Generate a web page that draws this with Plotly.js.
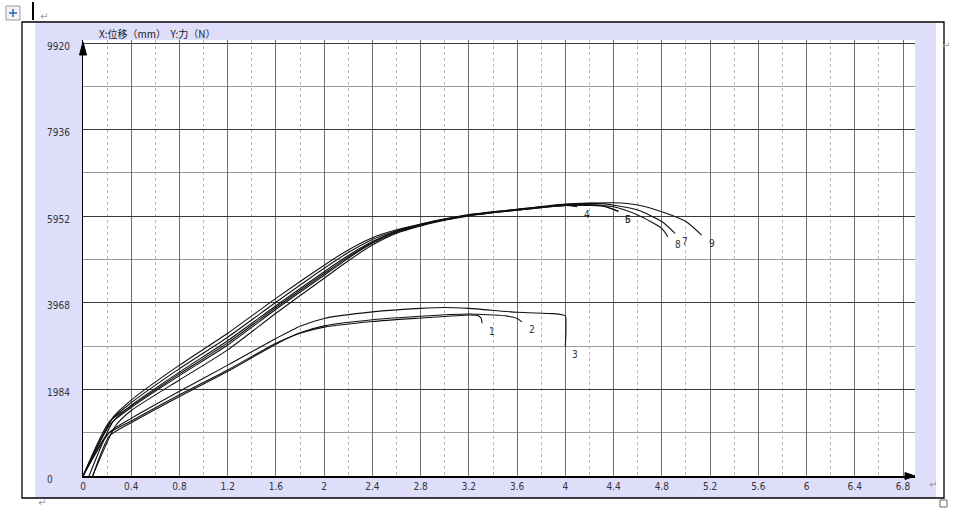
<!DOCTYPE html>
<html><head><meta charset="utf-8">
<script src="https://cdn.plot.ly/plotly-3.0.1.min.js"></script>
<style>html,body{margin:0;padding:0;background:#fff;}#chart{width:960px;height:518px;}</style>
</head><body><div id="chart"></div>
<script>
// ---- data (displacement mm / force N) ----
const xTickVals = [0,0.4,0.8,1.2,1.6,2,2.4,2.8,3.2,3.6,4,4.4,4.8,5.2,5.6,6,6.4,6.8];
const xTickText = ['0','0.4','0.8','1.2','1.6','2','2.4','2.8','3.2','3.6','4','4.4','4.8','5.2','5.6','6','6.4','6.8'];
const yTickVals = [0,1984,3968,5952,7936,9920];
const yTickText = ['0','1984','3968','5952','7936','9920'];
const curveNames = ['1','2','3','4','5','6','7','8','9'];

const x1 = [0,0.2,0.4,0.8,1.2,1.6,1.8,2.0,2.4,2.8,3.2,3.27,3.3,3.31];
const y1 = [0,950,1260,1860,2430,3040,3270,3410,3540,3620,3690,3680,3620,3500];
const x2 = [0.08,0.22,0.4,0.8,1.2,1.6,1.8,2.0,2.4,2.8,3.2,3.5,3.6,3.64];
const y2 = [0,920,1220,1820,2400,3020,3280,3440,3580,3660,3710,3670,3610,3530];
const x3 = [0,0.22,0.4,0.8,1.2,1.6,1.8,2.0,2.4,2.8,3.0,3.2,3.6,3.9,3.98,4.0,4.0];
const y3 = [0,1000,1320,1940,2540,3150,3430,3610,3760,3840,3860,3840,3750,3720,3690,3670,2970];
const x4 = [0,0.25,0.4,0.8,1.2,1.6,2.0,2.2,2.4,2.6,2.8,3.0,3.2,3.6,4.0,4.1];
const y4 = [0,1350,1740,2540,3270,4070,4830,5180,5460,5640,5770,5890,5990,6110,6200,6170];
const x5 = [0,0.24,0.4,0.8,1.2,1.6,2.0,2.2,2.4,2.6,2.8,3.0,3.2,3.6,4.0,4.3,4.44];
const y5 = [0,1300,1680,2460,3180,3980,4760,5120,5420,5620,5760,5880,5980,6100,6210,6200,6060];
const x6 = [0.05,0.25,0.4,0.8,1.2,1.6,2.0,2.2,2.4,2.6,2.8,3.0,3.2,3.6,4.0,4.3,4.44];
const y6 = [0,1250,1620,2380,3100,3900,4680,5050,5370,5600,5750,5870,5970,6090,6200,6190,6070];
const x7 = [0,0.23,0.4,0.8,1.2,1.6,2.0,2.2,2.4,2.6,2.8,3.0,3.2,3.6,4.0,4.3,4.6,4.8,4.91];
const y7 = [0,1200,1570,2300,3000,3820,4600,4990,5330,5580,5740,5870,5970,6100,6220,6240,6095,5830,5560];
const x8 = [0.08,0.27,0.4,0.8,1.2,1.6,2.0,2.2,2.4,2.6,2.8,3.0,3.2,3.6,4.0,4.4,4.6,4.8,4.85];
const y8 = [0,1150,1500,2200,2890,3730,4530,4930,5290,5560,5730,5860,5960,6090,6200,6170,5980,5675,5480];
const x9 = [0,0.22,0.4,0.8,1.2,1.6,2.0,2.2,2.4,2.6,2.8,3.0,3.2,3.6,4.0,4.4,4.6,4.8,5.0,5.13];
const y9 = [0,1250,1600,2340,3050,3860,4640,5020,5350,5600,5760,5880,5980,6110,6230,6260,6210,6055,5830,5520];

const xs = [x1,x2,x3,x4,x5,x6,x7,x8,x9];
const ys = [y1,y2,y3,y4,y5,y6,y7,y8,y9];

// ---- layout helpers (pixel -> paper) ----
const L = 83, R = 915, T = 40, B = 476;
const W = R - L, H = B - T;
const px = v => (v - L) / W;
const py = v => (B - v) / H;
const narrow = 'Liberation Sans Narrow, DejaVu Sans Condensed, Arial Narrow, sans-serif';

const traces = xs.map((x, i) => ({
  x: x, y: ys[i], type: 'scatter', mode: 'lines', name: curveNames[i],
  line: {color: '#111', width: 1.1, shape: 'spline', smoothing: 0.6},
  hoverinfo: 'skip', showlegend: false
}));

const annotations = [];
xs.forEach((x, i) => {
  annotations.push({
    x: x[x.length - 1], y: ys[i][ys[i].length - 1], xref: 'x', yref: 'y',
    text: curveNames[i], showarrow: false, xshift: 10, yshift: -8,
    font: {family: narrow, size: 10, color: '#333'}
  });
});
yTickVals.forEach((v, i) => {
  annotations.push({
    x: px(45), y: v, xref: 'paper', yref: 'y', text: yTickText[i], showarrow: false,
    xanchor: 'left', yanchor: 'middle', yshift: -3,
    font: {family: narrow, size: 10, color: '#333'}
  });
});
annotations.push({
  x: px(97), y: py(34), xref: 'paper', yref: 'paper', xanchor: 'left', yanchor: 'middle',
  text: 'X:位移（mm）  Y:力（N）', showarrow: false,
  font: {family: 'Noto Sans CJK SC, sans-serif', size: 10, color: '#222'}
});
// word paragraph marks
[[38, 9], [952, 38], [939, 492], [36, 510]].forEach(p => {
  annotations.push({x: px(p[0]), y: py(p[1]), xref: 'paper', yref: 'paper', text: '↵',
    showarrow: false, font: {family: 'DejaVu Sans', size: 10, color: '#999'}});
});

const shapes = [
  {type: 'rect', xref: 'paper', yref: 'paper', x0: px(35), x1: px(936), y0: py(498), y1: py(23),
   fillcolor: '#dedefa', line: {width: 0}, layer: 'below'},
  {type: 'rect', xref: 'paper', yref: 'paper', x0: px(82), x1: 1, y0: 0, y1: 1,
   fillcolor: '#ffffff', line: {width: 0}, layer: 'below'},
  {type: 'rect', xref: 'paper', yref: 'paper', x0: px(22), x1: px(944), y0: py(498), y1: py(22),
   line: {color: '#000', width: 1.3}, fillcolor: 'rgba(0,0,0,0)', layer: 'above'},
  // y-axis arrow
  {type: 'path', xref: 'paper', yref: 'paper',
   path: `M ${px(83)} ${py(42)} L ${px(79.5)} ${py(55)} L ${px(86.5)} ${py(55)} Z`,
   fillcolor: '#000', line: {color: '#000', width: 1}},
  // x-axis arrow
  {type: 'path', xref: 'paper', yref: 'paper',
   path: `M ${px(915)} ${py(476)} L ${px(905)} ${py(472.5)} L ${px(905)} ${py(479.5)} Z`,
   fillcolor: '#000', line: {color: '#000', width: 1}},
  // word move handle
  {type: 'rect', xref: 'paper', yref: 'paper', x0: px(6), x1: px(20), y0: py(20), y1: py(6),
   fillcolor: '#f4f4f4', line: {color: '#9a9a9a', width: 1}},
  {type: 'line', xref: 'paper', yref: 'paper', x0: px(9), x1: px(17), y0: py(13), y1: py(13),
   line: {color: '#3060c0', width: 1.5}},
  {type: 'line', xref: 'paper', yref: 'paper', x0: px(13), x1: px(13), y0: py(9), y1: py(17),
   line: {color: '#3060c0', width: 1.5}},
  // text cursor
  {type: 'line', xref: 'paper', yref: 'paper', x0: px(33), x1: px(33), y0: py(2), y1: py(20),
   line: {color: '#000', width: 2}},
  // small square bottom-right
  {type: 'rect', xref: 'paper', yref: 'paper', x0: px(940), x1: px(947), y0: py(507), y1: py(500),
   fillcolor: '#fff', line: {color: '#666', width: 1}}
];

const layout = {
  width: 960, height: 518,
  margin: {l: L, r: 960 - R, t: T, b: 518 - B, pad: 0},
  paper_bgcolor: '#ffffff', plot_bgcolor: 'rgba(0,0,0,0)',
  showlegend: false,
  xaxis: {
    range: [0, 6.8 * W / 820], tickmode: 'array', tickvals: xTickVals, ticktext: xTickText,
    showgrid: true, gridcolor: '#6e6e6e', gridwidth: 1, zeroline: false,
    showline: true, linecolor: '#000', linewidth: 1.5, ticks: '',
    tickfont: {family: narrow, size: 10, color: '#333'},
    minor: {tickmode: 'array', tickvals: [0.2,0.6,1.0,1.4,1.8,2.2,2.6,3.0,3.4,3.8,4.2,4.6,5.0,5.4,5.8,6.2,6.6],
            showgrid: true, gridcolor: '#b8b8b8', griddash: 'dot', gridwidth: 1, ticks: ''},
    fixedrange: true
  },
  yaxis: {
    range: [0, 9920 * H / 433], tickmode: 'array', tickvals: yTickVals, showticklabels: false,
    showgrid: true, gridcolor: '#3a3a3a', gridwidth: 1, zeroline: false,
    showline: true, linecolor: '#000', linewidth: 1.5, ticks: '',
    minor: {tickmode: 'array', tickvals: [992,2976,4960,6944,8928],
            showgrid: true, gridcolor: '#9a9a9a', gridwidth: 1, ticks: ''},
    fixedrange: true
  },
  shapes: shapes,
  annotations: annotations
};

Plotly.newPlot('chart', traces, layout, {displayModeBar: false, staticPlot: true});
</script></body></html>
